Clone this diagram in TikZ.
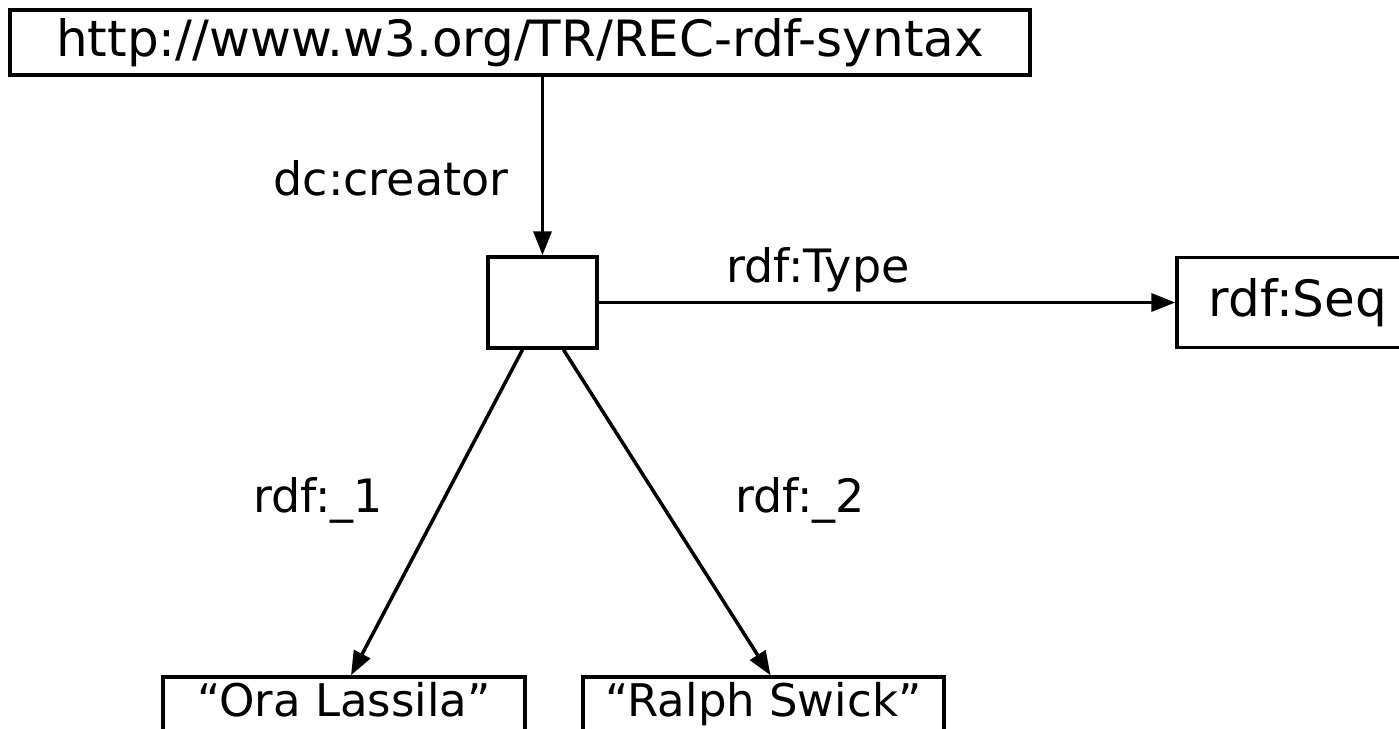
\documentclass[tikz,border=0pt]{standalone}
\usepackage{fontspec}
\setmainfont{DejaVu Sans}
\usetikzlibrary{arrows.meta}
\begin{document}
\begin{tikzpicture}[x=1pt,y=-1pt,
  box/.style={draw,line width=3.5pt,inner sep=0pt,font=\fontsize{50}{60}\selectfont},
  lab/.style={font=\fontsize{46}{55}\selectfont,inner sep=0pt},
  conn/.style={line width=3.5pt,-{Triangle[length=24pt,width=18pt]}}]
\path[clip] (0,0) rectangle (1399,728);
\node[box,minimum width=1020pt,minimum height=65pt] (top) at (520,42.5) {http://www.w3.org/TR/REC-rdf-syntax};
\node[box,minimum width=109pt,minimum height=91pt] (sq) at (542.5,302.5) {};
\node[box,minimum width=242pt,minimum height=90pt] (seq) at (1298,302.5) {rdf:Seq};
\node[box,font=\fontsize{45}{54}\selectfont,text height=34pt,text depth=10pt,minimum width=362pt,minimum height=54pt] (ora) at (344,704) {“Ora Lassila”};
\node[box,font=\fontsize{45}{54}\selectfont,text height=34pt,text depth=10pt,minimum width=361pt,minimum height=54pt] (ralph) at (763.5,704) {“Ralph Swick”};
\draw[conn] (sq.north |- top.south) -- (sq.north);
\node[lab] (l1) at (391,178) {dc:creator};
\draw[conn] (sq.east) -- (seq.west);
\node[lab] (l2) at (818,270) {rdf:Type};
\draw[conn] ([xshift=-20pt]sq.south) -- ([xshift=7pt]ora.north);
\draw[conn] ([xshift=21pt]sq.south) -- ([xshift=7pt]ralph.north);
\node[lab] (l3) at (318,500) {rdf:\_1};
\node[lab] (l4) at (800,500) {rdf:\_2};
\end{tikzpicture}
\end{document}
